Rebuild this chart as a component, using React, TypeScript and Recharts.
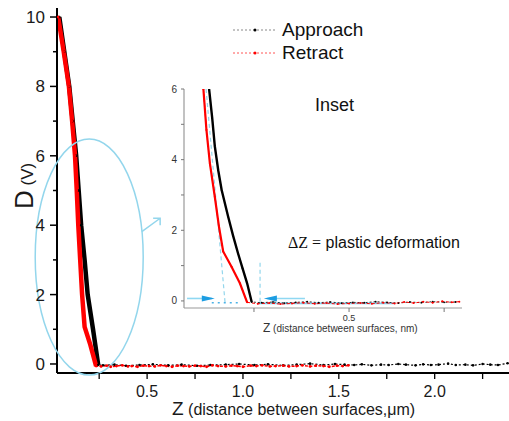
import { LineChart, Line, XAxis, YAxis, ReferenceLine, ReferenceDot, Legend } from 'recharts';

const FONT = '"Liberation Sans", Arial, sans-serif';

// ---- main plot: Z in um, D in V ----
const approachZ = [
  0.042, 0.068, 0.094, 0.112, 0.130, 0.143, 0.156, 0.174, 0.190, 0.218, 0.245,
  0.27, 0.33, 0.39, 0.46, 0.53, 0.61, 0.68, 0.76, 0.83, 0.91, 0.98, 1.06, 1.13, 1.21, 1.28,
  1.35, 1.42, 1.48, 1.53, 1.58, 1.62, 1.67, 1.72, 1.76, 1.81, 1.85, 1.90, 1.94, 1.98, 2.02,
  2.07, 2.11, 2.16, 2.20, 2.25, 2.29, 2.33, 2.38, 2.42,
];
const approachD = [
  10, 9, 8, 7, 6, 5, 4, 3, 2, 1, -0.03,
  -0.04, -0.02, -0.05, -0.03, -0.01, -0.04, -0.02, -0.05, -0.03, -0.02, 0.0, -0.03, -0.01, -0.04, -0.02,
  0.01, -0.03, 0.0, -0.02, -0.03, -0.01, -0.04, -0.02, -0.03, 0.0, -0.02, -0.04, -0.01, -0.03, -0.02,
  0.01, -0.03, -0.02, -0.04, 0.0, -0.02, -0.03, 0.02, -0.01,
];
const retractZ = [
  0.036, 0.065, 0.092, 0.109, 0.124, 0.133, 0.141, 0.151, 0.161, 0.174, 0.204, 0.234,
  0.26, 0.29, 0.31, 0.34, 0.37, 0.40, 0.42, 0.45, 0.48, 0.51, 0.54, 0.57, 0.60, 0.63, 0.66,
  0.69, 0.72, 0.75, 0.78, 0.81, 0.84, 0.87, 0.91, 0.94, 0.97, 1.00, 1.04, 1.07, 1.10, 1.14,
  1.17, 1.21, 1.24, 1.28, 1.31, 1.35, 1.38, 1.42, 1.45, 1.49, 1.52, 1.55,
];
const retractD = [
  10, 9, 8, 7, 6, 5, 4, 3, 2, 1.07, 0.55, -0.06,
  -0.07, -0.05, -0.08, -0.06, -0.04, -0.07, -0.06, -0.08, -0.05, -0.06, -0.07, -0.04, -0.06, -0.08, -0.05,
  -0.06, -0.07, -0.05, -0.06, -0.08, -0.04, -0.06, -0.07, -0.05, -0.06, -0.08, -0.05, -0.06, -0.04, -0.07,
  -0.06, -0.05, -0.07, -0.06, -0.04, -0.07, -0.05, -0.06, -0.08, -0.05, -0.06, -0.04,
];
const STEEP_APPROACH = 11;
const STEEP_RETRACT = 12;

const mainXTicks = [0.25, 0.5, 0.75, 1.0, 1.25, 1.5, 1.75, 2.0, 2.25];
const mainYTicks = [0, 1, 2, 3, 4, 5, 6, 7, 8, 9, 10];
const mainXDomain = [0.03, 2.445];
const mainYDomain = [-0.26, 10.26];

// ---- inset: Z in nm ----
const insetApproachZ = [
  0.132, 0.140, 0.147, 0.156, 0.165, 0.182, 0.195, 0.208, 0.220, 0.232, 0.244,
  0.27, 0.30, 0.33, 0.36, 0.39, 0.42, 0.45, 0.48, 0.51, 0.54, 0.57, 0.60, 0.63, 0.66, 0.69, 0.72, 0.75, 0.78,
];
const insetApproachD = [
  6, 5.2, 4.38, 3.7, 3.14, 2.39, 1.85, 1.35, 0.92, 0.5, -0.03,
  -0.05, -0.03, -0.06, -0.04, -0.02, -0.05, -0.03, -0.06, -0.04, -0.05, -0.02, -0.04, -0.06, -0.03, -0.05, -0.02, -0.04, -0.03,
];
const insetRetractZ = [
  0.117, 0.125, 0.134, 0.147, 0.158, 0.169, 0.191, 0.213, 0.232,
  0.26, 0.29, 0.32, 0.35, 0.38, 0.41, 0.44, 0.47, 0.50, 0.53, 0.56, 0.59, 0.62, 0.645, 0.67, 0.695, 0.72, 0.745, 0.77, 0.79,
];
const insetRetractD = [
  6, 4.84, 3.9, 2.95, 2.1, 1.4, 0.97, 0.5, -0.04,
  -0.08, -0.06, -0.09, -0.07, -0.05, -0.08, -0.06, -0.09, -0.07, -0.06, -0.08, -0.05, -0.07, -0.03, -0.06, -0.02, -0.05, -0.01, -0.04, -0.02,
];
const INSET_STEEP_APPROACH = 11;
const INSET_STEEP_RETRACT = 9;

const insetXTicks = [0.25, 0.5, 0.75];
const insetYTicks = [0, 1, 2, 3, 4, 5, 6];
const insetXDomain = [0.066, 0.797];
const insetYDomain = [-0.2, 6];

const toRows = (z: number[], d: number[]) => z.map((v, i) => ({ z: v, d: d[i] }));

const approach = toRows(approachZ, approachD);
const retract = toRows(retractZ, retractD);
const insetApproach = toRows(insetApproachZ, insetApproachD);
const insetRetract = toRows(insetRetractZ, insetRetractD);

const CYAN = '#93d6ec';
const BLUE = '#1c9de2';

function MainYTick(props: any) {
  const { x, y, payload } = props;
  const v = payload.value;
  const major = v % 2 === 0;
  return (
    <g>
      <line x1={x - (major ? 7 : 4)} x2={x} y1={y} y2={y} stroke="#000" strokeWidth={1.5} />
      {major && (
        <text x={x - 12} y={y} dy={6} textAnchor="end" fontSize={17} fontFamily={FONT} fill="#1a1a1a">
          {v}
        </text>
      )}
    </g>
  );
}

function MainXTick(props: any) {
  const { x, y, payload } = props;
  const v = payload.value;
  const major = Math.abs(v * 2 - Math.round(v * 2)) < 1e-6;
  return (
    <g>
      <line x1={x} x2={x} y1={y} y2={y + 6} stroke="#000" strokeWidth={1.3} />
      {major && (
        <text x={x} y={y + 24} textAnchor="middle" fontSize={16} fontFamily={FONT} fill="#1a1a1a">
          {v.toFixed(1)}
        </text>
      )}
    </g>
  );
}

function InsetYTick(props: any) {
  const { x, y, payload } = props;
  const v = payload.value;
  return (
    <g>
      <line x1={x - 3} x2={x} y1={y} y2={y} stroke="#777" strokeWidth={1} />
      {v % 2 === 0 && (
        <text x={x - 7} y={y} dy={3.5} textAnchor="end" fontSize={10} fontFamily={FONT} fill="#333">
          {v}
        </text>
      )}
    </g>
  );
}

function InsetXTick(props: any) {
  const { x, y, payload } = props;
  const v = payload.value;
  return (
    <g>
      <line x1={x} x2={x} y1={y} y2={y + 4} stroke="#777" strokeWidth={1} />
      {v === 0.5 && (
        <text x={x} y={y + 13} textAnchor="middle" fontSize={9} fontFamily={FONT} fill="#333">
          {v}
        </text>
      )}
    </g>
  );
}

const MainXTitle = () => (
  <text x={172} y={415} fontFamily={FONT} fill="#1a1a1a">
    <tspan fontSize={19}>Z</tspan>
    <tspan fontSize={16}> (distance between surfaces,μm)</tspan>
  </text>
);

const MainYTitle = () => (
  <text transform="rotate(-90)" x={-209} y={33} fontFamily={FONT} fill="#1a1a1a">
    <tspan fontSize={26}>D</tspan>
    <tspan fontSize={17}> (V)</tspan>
  </text>
);

const InsetXTitle = () => (
  <text x={103} y={252} fontFamily={FONT} fill="#333">
    <tspan fontSize={12}>Z</tspan>
    <tspan fontSize={10}> (distance between surfaces, nm)</tspan>
  </text>
);

const LegendBox = () => (
  <svg width={170} height={50} style={{ display: 'block' }}>
    <line x1={3} x2={45} y1={12} y2={12} stroke="#888" strokeWidth={1} strokeDasharray="2 2" />
    <circle cx={25} cy={12} r={1.5} fill="#000" />
    <text x={52} y={18} fontSize={19} fontFamily={FONT} fill="#111">Approach</text>
    <line x1={3} x2={45} y1={35} y2={35} stroke="#f55" strokeWidth={1} strokeDasharray="2 2" />
    <circle cx={25} cy={35} r={1.5} fill="#f00" />
    <text x={52} y={41} fontSize={19} fontFamily={FONT} fill="#111">Retract</text>
  </svg>
);

export default function App() {
  return (
    <div style={{ position: 'absolute', left: 0, top: 0, width: 509, height: 421, overflow: 'hidden', background: '#fff' }}>
      <LineChart width={520} height={421} margin={{ top: 8, right: 0, left: 0, bottom: 0 }}>
        <XAxis
          dataKey="z"
          type="number"
          domain={mainXDomain}
          ticks={mainXTicks}
          interval={0}
          height={48}
          tickSize={0}
          tickMargin={0}
          tickLine={false}
          tick={<MainXTick />}
          axisLine={{ stroke: '#000', strokeWidth: 2 }}
          allowDataOverflow
          label={<MainXTitle />}
        />
        <XAxis
          xAxisId="top"
          orientation="top"
          type="number"
          domain={mainXDomain}
          height={0}
          tick={false}
          tickLine={false}
          axisLine={{ stroke: '#333', strokeWidth: 1.2 }}
        />
        <YAxis
          type="number"
          domain={mainYDomain}
          ticks={mainYTicks}
          interval={0}
          width={57}
          tickSize={0}
          tickMargin={0}
          tickLine={false}
          tick={<MainYTick />}
          axisLine={{ stroke: '#000', strokeWidth: 2 }}
          allowDataOverflow
          label={<MainYTitle />}
        />
        <Legend
          layout="horizontal"
          verticalAlign="middle"
          align="center"
          content={() => <LegendBox />}
          wrapperStyle={{ left: 230, top: 18, width: 170 }}
        />
        <ReferenceDot
          x={0.198}
          y={3.08}
          ifOverflow="visible"
          shape={(p: any) => (
            <ellipse cx={p.cx} cy={p.cy} rx={54} ry={118} fill="none" stroke={CYAN} strokeWidth={1.5} />
          )}
        />
        <ReferenceDot
          x={0.568}
          y={4.2}
          ifOverflow="visible"
          shape={(p: any) => (
            <path
              d={`M ${p.cx - 18.3} ${p.cy + 13.4} L ${p.cx} ${p.cy} M ${p.cx - 7} ${p.cy} L ${p.cx} ${p.cy} L ${p.cx} ${p.cy + 7}`}
              fill="none"
              stroke={CYAN}
              strokeWidth={1.5}
            />
          )}
        />
        <Line
          data={approach}
          dataKey="d"
          name="Approach"
          stroke="#000"
          strokeWidth={1.2}
          strokeDasharray="2 2"
          dot={{ r: 1.3, fill: '#000', stroke: 'none' }}
          isAnimationActive={false}
        />
        <Line
          data={approach.slice(0, STEEP_APPROACH)}
          dataKey="d"
          stroke="#000"
          strokeWidth={4.5}
          dot={false}
          legendType="none"
          isAnimationActive={false}
        />
        <Line
          data={retract}
          dataKey="d"
          name="Retract"
          stroke="#f00"
          strokeWidth={1.5}
          strokeDasharray="3 1.5"
          dot={{ r: 1.4, fill: '#f00', stroke: 'none' }}
          isAnimationActive={false}
        />
        <Line
          data={retract.slice(0, STEEP_RETRACT)}
          dataKey="d"
          stroke="#f00"
          strokeWidth={4.5}
          dot={false}
          legendType="none"
          isAnimationActive={false}
        />
      </LineChart>

      <div style={{ position: 'absolute', left: 160, top: 80 }}>
        <LineChart width={320} height={260} margin={{ top: 9, right: 18, left: 0, bottom: 0 }}>
          <XAxis
            dataKey="z"
            type="number"
            domain={insetXDomain}
            ticks={insetXTicks}
            interval={0}
            height={32}
            tickSize={0}
            tickMargin={0}
            tickLine={false}
            tick={<InsetXTick />}
            axisLine={{ stroke: '#999', strokeWidth: 1.2 }}
            allowDataOverflow
            label={<InsetXTitle />}
          />
          <XAxis
            xAxisId="top"
            orientation="top"
            type="number"
            domain={insetXDomain}
            height={0}
            tick={false}
            tickLine={false}
            axisLine={{ stroke: '#999', strokeWidth: 1.2 }}
          />
          <YAxis
            type="number"
            domain={insetYDomain}
            ticks={insetYTicks}
            interval={0}
            width={24}
            tickSize={0}
            tickMargin={0}
            tickLine={false}
            tick={<InsetYTick />}
            axisLine={{ stroke: '#999', strokeWidth: 1.2 }}
            allowDataOverflow
          />
          <YAxis
            yAxisId="right"
            orientation="right"
            type="number"
            domain={insetYDomain}
            width={0}
            tick={false}
            tickLine={false}
            axisLine={{ stroke: '#999', strokeWidth: 1.2 }}
          />
          <ReferenceLine
            segment={[{ x: 0.26, y: -0.07 }, { x: 0.62, y: -0.07 }]}
            stroke="#7fd0f0"
            strokeWidth={1.6}
            ifOverflow="visible"
          />
          <ReferenceLine
            segment={[{ x: 0.124, y: 6 }, { x: 0.174, y: -0.05 }]}
            stroke={CYAN}
            strokeWidth={1.2}
            strokeDasharray="4 3"
            ifOverflow="visible"
          />
          <ReferenceLine
            segment={[{ x: 0.266, y: 1.08 }, { x: 0.266, y: -0.05 }]}
            stroke={CYAN}
            strokeWidth={1.2}
            strokeDasharray="4 3"
            ifOverflow="visible"
          />
          <ReferenceLine
            segment={[{ x: 0.139, y: -0.05 }, { x: 0.217, y: -0.05 }]}
            stroke="#4cb2e6"
            strokeWidth={1.5}
            strokeDasharray="2 4"
            ifOverflow="visible"
          />
          <ReferenceLine
            segment={[{ x: 0.074, y: 0.07 }, { x: 0.14, y: 0.07 }]}
            stroke="#8fd8f2"
            strokeWidth={1.6}
            ifOverflow="visible"
          />
          <ReferenceLine
            segment={[{ x: 0.285, y: 0.07 }, { x: 0.384, y: 0.07 }]}
            stroke="#8fd8f2"
            strokeWidth={1.6}
            ifOverflow="visible"
          />
          <ReferenceDot
            x={0.147}
            y={0.07}
            ifOverflow="visible"
            shape={(p: any) => (
              <path d={`M ${p.cx} ${p.cy} L ${p.cx - 13} ${p.cy - 3} L ${p.cx - 13} ${p.cy + 3} Z`} fill={BLUE} stroke="none" />
            )}
          />
          <ReferenceDot
            x={0.276}
            y={0.07}
            ifOverflow="visible"
            shape={(p: any) => (
              <path d={`M ${p.cx} ${p.cy} L ${p.cx + 13} ${p.cy - 3} L ${p.cx + 13} ${p.cy + 3} Z`} fill={BLUE} stroke="none" />
            )}
          />
          <Line
            data={insetApproach}
            dataKey="d"
            stroke="#000"
            strokeWidth={0.8}
            strokeDasharray="2 2"
            dot={{ r: 0.9, fill: '#000', stroke: 'none' }}
            isAnimationActive={false}
          />
          <Line
            data={insetApproach.slice(0, INSET_STEEP_APPROACH)}
            dataKey="d"
            stroke="#000"
            strokeWidth={2.4}
            dot={false}
            isAnimationActive={false}
          />
          <Line
            data={insetRetract}
            dataKey="d"
            stroke="#f00"
            strokeWidth={1}
            strokeDasharray="3 2"
            dot={{ r: 1, fill: '#f00', stroke: 'none' }}
            isAnimationActive={false}
          />
          <Line
            data={insetRetract.slice(0, INSET_STEEP_RETRACT)}
            dataKey="d"
            stroke="#f00"
            strokeWidth={2.2}
            dot={false}
            isAnimationActive={false}
          />
          <text x={155} y={31} fontSize={18} fontFamily={FONT} fill="#111">Inset</text>
          <text x={128} y={168} fontSize={16} fontFamily={FONT} fill="#111">
            <tspan fontFamily='"Liberation Serif", serif'>ΔZ =</tspan>
            <tspan> plastic deformation</tspan>
          </text>
        </LineChart>
      </div>
    </div>
  );
}
